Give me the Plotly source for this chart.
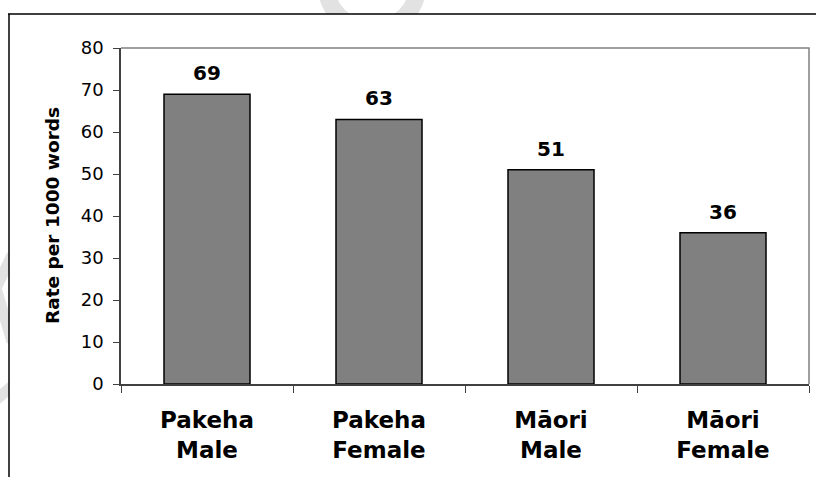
import plotly.graph_objects as go

# Data
groups = ["Pakeha<br>Male", "Pakeha<br>Female", "Māori<br>Male", "Māori<br>Female"]
rates = [69, 63, 51, 36]
y_ticks = [0, 10, 20, 30, 40, 50, 60, 70, 80]
y_title = "Rate per 1000 words"

# Page geometry (pixels)
W, H = 816, 477
L, R, T, B = 121, 7, 48, 93
PW, PH = W - L - R, H - T - B


def px(x):
    return (x - L) / PW


def py(y):
    return (H - B - y) / PH


FONT = "DejaVu Sans"

fig = go.Figure()
fig.add_trace(go.Bar(
    x=groups,
    y=rates,
    width=0.5,
    marker=dict(color="#808080", line=dict(color="#000000", width=1.5)),
    hoverinfo="skip",
))

# value labels above bars
for g, v in zip(groups, rates):
    fig.add_annotation(
        x=g, y=v, xref="x", yref="y", text=f"<b>{v}</b>", showarrow=False,
        yanchor="middle", yshift=21,
        font=dict(family=FONT, size=20, color="#000000"),
    )

# rotated axis title
fig.add_annotation(
    x=px(52), y=0.5, xref="paper", yref="paper", text=f"<b>{y_title}</b>",
    textangle=-90, showarrow=False, xanchor="center", yanchor="middle",
    font=dict(family=FONT, size=18.5, color="#000000"),
)

wm = "#e2e2e2"
shapes = [
    # faint background ring and chevron
    dict(type="circle", xref="paper", yref="paper", layer="below",
         x0=px(372 - 46), x1=px(372 + 46), y0=py(-16 + 46), y1=py(-16 - 46),
         line=dict(color=wm, width=17)),
    dict(type="path", xref="paper", yref="paper", layer="below",
         path=f"M {px(12)},{py(255)} L {px(-4)},{py(288)} L {px(12)},{py(342)}",
         line=dict(color=wm, width=11)),
    dict(type="path", xref="paper", yref="paper", layer="below",
         path=f"M {px(-4)},{py(400)} L {px(12)},{py(386)}",
         line=dict(color=wm, width=11)),
    # white panel inside the frame
    dict(type="rect", xref="paper", yref="paper", layer="below",
         x0=px(9), x1=px(W + 10), y0=py(14), y1=py(H + 10),
         fillcolor="#ffffff", line=dict(width=0)),
    # outer frame
    dict(type="line", xref="paper", yref="paper", layer="above",
         x0=px(8), x1=px(W + 10), y0=py(14), y1=py(14),
         line=dict(color="#000000", width=1.5)),
    dict(type="line", xref="paper", yref="paper", layer="above",
         x0=px(9), x1=px(9), y0=py(14), y1=py(H + 10),
         line=dict(color="#000000", width=1.5)),
    # plot-area border (top and right)
    dict(type="path", xref="paper", yref="paper", layer="above",
         path="M 0,1 L 1,1 L 1,0",
         line=dict(color="#808080", width=1.5)),
]

fig.update_layout(
    width=W, height=H,
    margin=dict(l=L, r=R, t=T, b=B, pad=0),
    paper_bgcolor="#ffffff",
    plot_bgcolor="#ffffff",
    showlegend=False,
    bargap=0.5,
    shapes=shapes,
    xaxis=dict(
        type="category", tickson="boundaries", ticks="outside", ticklen=7,
        tickwidth=1.2, tickcolor="#404040", showline=True, linecolor="#404040",
        linewidth=1.5, showgrid=False, zeroline=False, ticklabelstandoff=15,
        tickfont=dict(family=FONT, size=23, color="#000000", weight="bold"),
    ),
    yaxis=dict(
        range=[0, 80], tickvals=y_ticks, ticks="outside", ticklen=6,
        tickwidth=1.2, tickcolor="#404040", showline=True, linecolor="#404040",
        linewidth=1.5, showgrid=False, zeroline=False, ticklabelstandoff=6,
        tickfont=dict(family=FONT, size=18, color="#000000"),
    ),
)

fig.write_html("out.html")
